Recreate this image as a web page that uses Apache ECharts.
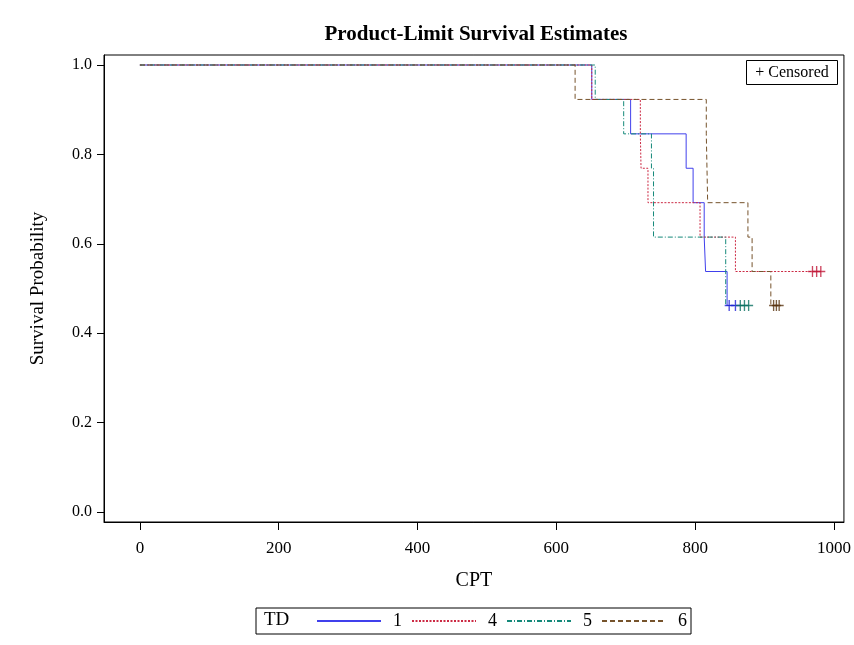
<!DOCTYPE html>
<html>
<head>
<meta charset="utf-8">
<script src="https://cdn.jsdelivr.net/npm/echarts@6/dist/echarts.min.js"></script>
<style>html,body{margin:0;padding:0;background:#fff;}#c{width:854px;height:645px;}</style>
</head>
<body>
<div id="c"></div>
<script>
// ---- data ----
const xTicks = [0, 200, 400, 600, 800, 1000];
const yTicks = [0, 0.2, 0.4, 0.6, 0.8, 1.0];
const groups = ['1', '4', '5', '6'];

const td1Times = [0, 651, 707, 787, 797, 813, 815, 846, 858];
const td1Surv  = [1, 0.923, 0.846, 0.769, 0.692, 0.615, 0.538, 0.462, 0.462];
const td1CensT = [849, 858];
const td1CensS = [0.462, 0.462];

const td4Times = [0, 651, 721, 722, 732, 807, 858, 981];
const td4Surv  = [1, 0.923, 0.846, 0.769, 0.692, 0.615, 0.538, 0.538];
const td4CensT = [969, 975, 981];
const td4CensS = [0.538, 0.538, 0.538];

const td5Times = [0, 656, 697, 737, 740, 844, 877];
const td5Surv  = [1, 0.923, 0.846, 0.769, 0.615, 0.462, 0.462];
const td5CensT = [865, 871, 877];
const td5CensS = [0.462, 0.462, 0.462];

const td6Times = [0, 627, 816, 818, 876, 882, 909, 921];
const td6Surv  = [1, 0.923, 0.846, 0.692, 0.615, 0.538, 0.462, 0.462];
const td6CensT = [913, 917, 921];
const td6CensS = [0.462, 0.462, 0.462];

// ---- build ----
const zip = (a, b) => a.map((v, i) => [v, b[i]]);
const FONT = '"Liberation Serif", "Times New Roman", serif';
const lineColors = ['#4040ec', '#cc2a44', '#15897a', '#76532c'];
const censColors = ['#2020d8', '#c01838', '#0a7062', '#5a3510'];
const dashTypes = ['solid', [2, 1.5], [5, 2, 1, 2], [5, 3]];
const lineData = [zip(td1Times, td1Surv), zip(td4Times, td4Surv), zip(td5Times, td5Surv), zip(td6Times, td6Surv)];
const censData = [zip(td1CensT, td1CensS), zip(td4CensT, td4CensS), zip(td5CensT, td5CensS), zip(td6CensT, td6CensS)];
const plus = 'path://M-0.15,-1 L0.15,-1 L0.15,-0.13 L1,-0.13 L1,0.13 L0.15,0.13 L0.15,1 L-0.15,1 L-0.15,0.13 L-1,0.13 L-1,-0.13 L-0.15,-0.13 Z';

const series = [];
groups.forEach((g, i) => {
  series.push({
    name: g, type: 'line', step: 'end', data: lineData[i],
    symbol: 'none', showSymbol: false, animation: false, z: 2 + i,
    lineStyle: { color: lineColors[i], width: 1, type: dashTypes[i] },
    itemStyle: { color: lineColors[i] }
  });
});
groups.forEach((g, i) => {
  series.push({
    name: 'cens' + g, type: 'scatter', data: censData[i],
    symbol: plus, symbolSize: [9, 11], animation: false, z: 10,
    itemStyle: { color: censColors[i] }
  });
});

const chart = echarts.init(document.getElementById('c'), null, { renderer: 'canvas' });
chart.setOption({
  backgroundColor: '#fff',
  animation: false,
  title: {
    text: 'Product-Limit Survival Estimates',
    left: 471, top: 19, textAlign: 'center',
    textStyle: { fontFamily: FONT, fontSize: 21, fontWeight: 'bold', color: '#000' }
  },
  grid: { left: 104, top: 55, width: 742, height: 467, show: true, borderColor: '#000', borderWidth: 1, containLabel: false },
  xAxis: {
    type: 'value', min: -51.7, max: 1014.3,
    name: 'CPT', nameLocation: 'middle', nameGap: 49,
    nameTextStyle: { fontFamily: FONT, fontSize: 20, color: '#000' },
    axisLine: { show: true, onZero: false, lineStyle: { color: '#000', width: 1 } },
    axisTick: { show: true, length: 8, customValues: xTicks, lineStyle: { color: '#000' } },
    axisLabel: { customValues: xTicks, margin: 18, fontFamily: FONT, fontSize: 17, color: '#000',
      formatter: v => String(v) },
    splitLine: { show: false }
  },
  yAxis: {
    type: 'value', min: -0.0224, max: 1.0224,
    name: 'Survival Probability', nameLocation: 'middle', nameGap: 56, nameRotate: 90,
    nameTextStyle: { fontFamily: FONT, fontSize: 19, color: '#000' },
    axisLine: { show: true, onZero: false, lineStyle: { color: '#000', width: 1 } },
    axisTick: { show: true, length: 7, customValues: yTicks, lineStyle: { color: '#000' } },
    axisLabel: { customValues: yTicks, margin: 12, fontFamily: FONT, fontSize: 16, color: '#000',
      formatter: v => v.toFixed(1) },
    splitLine: { show: false }
  },
  legend: {
    data: groups, left: 256, top: 608, orient: 'horizontal',
    padding: [4, 4, 4, 60], itemWidth: 64, itemHeight: 16, itemGap: 9,
    borderColor: '#000', borderWidth: 1,
    itemStyle: { opacity: 0 },
    textStyle: { fontFamily: FONT, fontSize: 18, color: '#000', padding: [0, 0, 0, 7] }
  },
  graphic: [
    { type: 'text', left: 264, top: 611, style: { text: 'TD', font: '19px ' + FONT, fill: '#000' } },
    { type: 'rect', shape: { x: 746.5, y: 60.5, width: 91, height: 24 }, style: { fill: '#fff', stroke: '#000', lineWidth: 1 }, z: 20 },
    { type: 'text', x: 792, y: 72.5, style: { text: '+ Censored', font: '16px ' + FONT, fill: '#000', align: 'center', verticalAlign: 'middle' }, z: 21 }
  ],
  series: series
});
</script>
</body>
</html>
